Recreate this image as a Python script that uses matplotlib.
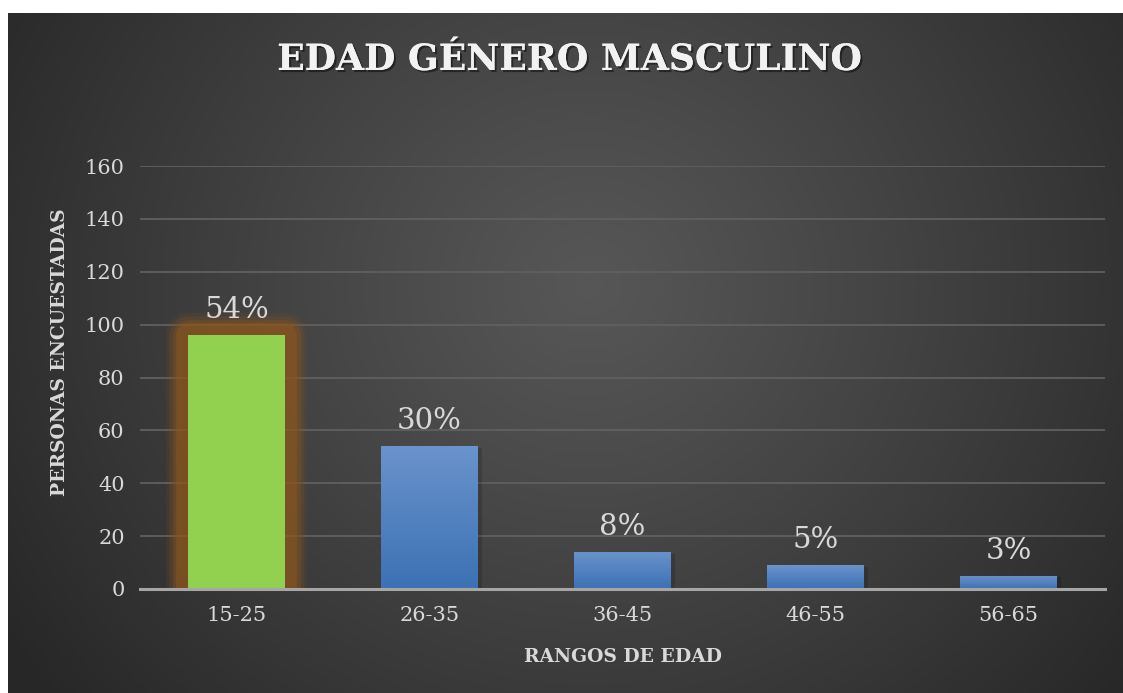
import numpy as np
import matplotlib
matplotlib.use("Agg")
import matplotlib.pyplot as plt
import matplotlib.patheffects as pe

categories = ["15-25", "26-35", "36-45", "46-55", "56-65"]
values = [96, 54, 14, 9, 5]
labels = ["54%", "30%", "8%", "5%", "3%"]
yticks = [0, 20, 40, 60, 80, 100, 120, 140, 160]

title = "EDAD GÉNERO MASCULINO"
xlabel = "RANGOS DE EDAD"
ylabel = "PERSONAS ENCUESTADAS"

W, H = 1123, 693
fig = plt.figure(figsize=(W / 100, H / 100), dpi=100)
fig.patch.set_facecolor("white")

# background panel with radial gradient
bg = fig.add_axes([8 / W, 0, 1 - 8 / W, 1 - 13 / H])
bg.set_axis_off()
ny, nx = 400, 700
yy, xx = np.mgrid[0:ny, 0:nx]
cx, cy = nx * 0.52, ny * 0.40
r = np.sqrt(((xx - cx) / (nx * 0.62)) ** 2 + ((yy - cy) / (ny * 0.95)) ** 2)
r = np.clip(r, 0, 1)
v = 0.34 - (0.34 - 0.155) * r ** 1.1
img = np.dstack([v, v, v])
bg.imshow(img, aspect="auto", extent=[0, 1, 0, 1], origin="upper", interpolation="bilinear")
bg.set_xlim(0, 1)
bg.set_ylim(0, 1)

ax = fig.add_axes([140 / W, 1 - 589 / H, (1105 - 140) / W, (589 - 166) / H])
ax.patch.set_alpha(0)
x = np.arange(len(categories))
ax.set_xlim(-0.5, len(categories) - 0.5)
ax.set_ylim(0, 160)

ax.set_yticks(yticks)
ax.yaxis.grid(True, color="#606060", linewidth=1.3, zorder=2.5)
for s in ["top", "right", "left"]:
    ax.spines[s].set_visible(False)
ax.spines["bottom"].set_color("#A6A6A6")
ax.spines["bottom"].set_linewidth(2.2)
ax.spines["bottom"].set_zorder(5)
ax.tick_params(length=0)
serif = ["DejaVu Serif"]
ax.set_xticks(x)
ax.set_xticklabels(categories, fontsize=15, color="#D9D9D9", family=serif)
ax.tick_params(axis="x", pad=12)
ax.tick_params(axis="y", pad=11)
for t in ax.get_yticklabels():
    t.set_fontsize(15)
    t.set_color("#D9D9D9")
    t.set_family(serif)

bw = 0.5
colors = ["#92D050"] + ["#4A7EC0"] * 4
# glow for the first bar
for lw, a in [(32, 0.12), (27, 0.22), (22, 0.35), (17, 0.55)]:
    ax.bar(x[0], values[0], width=bw, color="none", edgecolor="#8A561F",
           linewidth=lw, alpha=a, zorder=2, joinstyle="round")
bars = ax.bar(x, values, width=bw, color=colors, zorder=3, linewidth=0)

grad = np.linspace(0, 1, 100).reshape(-1, 1)
top_c = np.array([0x6A, 0x93, 0xCB]) / 255
bot_c = np.array([0x3C, 0x71, 0xB4]) / 255
gimg = top_c[None, None, :] * (1 - grad[:, :, None]) + bot_c[None, None, :] * grad[:, :, None]
for b in bars[1:]:
    bx, bwid, bh = b.get_x(), b.get_width(), b.get_height()
    ax.bar(bx + bwid / 2 + 0.02, bh, width=bwid, bottom=-0.6, color="black", alpha=0.15, zorder=2, linewidth=0)
    im = ax.imshow(gimg, extent=[bx, bx + bwid, 0, bh], aspect="auto", zorder=3.5, origin="upper")
    im.set_clip_path(b)

for xi, v, lab in zip(x, values, labels):
    ax.annotate(lab, (xi, v), xytext=(0, 8), textcoords="offset points", ha="center", va="bottom",
                fontsize=21, color="#D9D9D9", family=serif, zorder=6)

fig.text(570 / W, 1 - 60 / H, title, ha="center", va="center", fontsize=26, fontweight="bold",
         color="#F2F2F2", family=serif,
         path_effects=[pe.withSimplePatchShadow(offset=(1.5, -1.5), shadow_rgbFace="black", alpha=0.45),
                       pe.Normal()])
fig.text(623 / W, 1 - 657 / H, xlabel, ha="center", va="center", fontsize=13.5, fontweight="bold",
         color="#D9D9D9", family=serif)
fig.text(60 / W, 1 - 352 / H, ylabel, ha="center", va="center", rotation=90, fontsize=13.5,
         fontweight="bold", color="#D9D9D9", family=serif)

fig.savefig("out.png", dpi=100, facecolor=fig.get_facecolor())
